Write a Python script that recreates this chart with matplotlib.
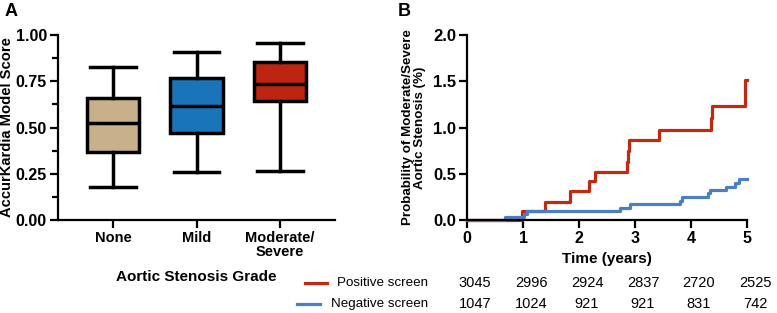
import matplotlib
matplotlib.use("Agg")
import matplotlib.pyplot as plt
from matplotlib.ticker import MultipleLocator

plt.rcParams['font.family'] = ['Liberation Sans', 'DejaVu Sans']

# ---- Panel A data ----
grades = ["None", "Mild", "Moderate/\nSevere"]
whisker_low = [0.177, 0.262, 0.265]
q1 = [0.366, 0.468, 0.643]
median = [0.523, 0.616, 0.733]
q3 = [0.660, 0.768, 0.856]
whisker_high = [0.829, 0.910, 0.958]
box_colors = ["#C8B08A", "#1A74BA", "#BE2511"]

# ---- Panel B data ----
pos_times = [0, 0.98, 1.39, 1.84, 2.18, 2.29, 2.85, 2.88, 2.90, 3.43, 4.36, 4.38, 4.97, 5.0]
pos_values = [0, 0.10, 0.20, 0.31, 0.42, 0.52, 0.63, 0.75, 0.86, 0.97, 1.10, 1.23, 1.51, 1.51]
neg_times = [0, 0.67, 1.02, 1.07, 2.74, 2.91, 3.80, 3.84, 4.30, 4.34, 4.63, 4.78, 4.86, 5.0]
neg_values = [0, 0.03, 0.06, 0.10, 0.135, 0.17, 0.21, 0.25, 0.29, 0.32, 0.36, 0.40, 0.44, 0.44]
risk_times = [0, 1, 2, 3, 4, 5]
pos_at_risk = [3045, 2996, 2924, 2837, 2720, 2525]
neg_at_risk = [1047, 1024, 921, 921, 831, 742]
series_labels = ["Positive screen", "Negative screen"]
line_colors = ["#BF2A12", "#4A7FC1"]

fig = plt.figure(figsize=(7.77, 3.13), dpi=100)

# ---------------- Panel A ----------------
axA = fig.add_axes([58/777, 1-220/313, 277/777, 185/313])
stats = []
for i in range(3):
    stats.append(dict(med=median[i], q1=q1[i], q3=q3[i],
                      whislo=whisker_low[i], whishi=whisker_high[i], fliers=[]))
lw = 2.5
bp = axA.bxp(stats, positions=range(3), widths=0.63, patch_artist=True,
             showfliers=False,
             boxprops=dict(linewidth=lw, edgecolor='black'),
             medianprops=dict(color='black', linewidth=lw),
             whiskerprops=dict(color='black', linewidth=lw),
             capprops=dict(color='black', linewidth=lw),
             capwidths=0.55)
for patch, c in zip(bp['boxes'], box_colors):
    patch.set_facecolor(c)
axA.set_xlim(-0.66, 2.66)
axA.set_ylim(0, 1.0)
axA.yaxis.set_minor_locator(MultipleLocator(0.125))
axA.set_yticks([0, 0.25, 0.5, 0.75, 1.0])
axA.set_yticklabels(["0.00", "0.25", "0.50", "0.75", "1.00"], fontweight='bold', fontsize=11.5)
axA.set_xticks(range(3))
axA.set_xticklabels(grades, fontweight='bold', fontsize=10.5, linespacing=1.0)
axA.set_xlabel("Aortic Stenosis Grade", fontweight='bold', fontsize=11, labelpad=8)
axA.set_ylabel("AccurKardia Model Score", fontweight='bold', fontsize=10.6)
axA.yaxis.set_label_coords(-0.160, 0.5)
for s in ['top', 'right']:
    axA.spines[s].set_visible(False)
for s in ['left', 'bottom']:
    axA.spines[s].set_linewidth(1.6)
axA.tick_params(axis='both', which='major', width=1.6, length=6, pad=2)
axA.tick_params(axis='y', which='minor', width=1.6, length=4)
fig.text(5/777, 1-12/313, "A", fontweight='bold', fontsize=13, va='center')

# ---------------- Panel B ----------------
axB = fig.add_axes([467/777, 1-220/313, 280/777, 185/313])
axB.step(pos_times, pos_values, where='post', color=line_colors[0], linewidth=2.3, zorder=3)
axB.step(neg_times, neg_values, where='post', color=line_colors[1], linewidth=2.3, zorder=4)
axB.set_xlim(0, 5)
axB.set_ylim(0, 2.0)
axB.set_xticks(range(6))
axB.set_xticklabels([str(t) for t in range(6)], fontweight='bold', fontsize=11.5)
axB.set_yticks([0, 0.5, 1.0, 1.5, 2.0])
axB.set_yticklabels(["0.0", "0.5", "1.0", "1.5", "2.0"], fontweight='bold', fontsize=12)
axB.set_xlabel("Time (years)", fontweight='bold', fontsize=11, labelpad=4)
axB.set_ylabel("Probability of Moderate/Severe\nAortic Stenosis (%)", fontweight='bold',
               fontsize=9.6, linespacing=1.0)
axB.yaxis.set_label_coords(-0.146, 0.5)
for s in ['top', 'right']:
    axB.spines[s].set_visible(False)
for s in ['left', 'bottom']:
    axB.spines[s].set_linewidth(1.6)
    axB.spines[s].set_zorder(5)
axB.tick_params(axis='both', which='major', width=1.6, length=6, pad=2)
for ln in axB.lines:
    ln.set_clip_on(False)
fig.text(398/777, 1-12/313, "B", fontweight='bold', fontsize=13, va='center')

# risk table
row_y = [1-283/313, 1-304/313]
for counts, yy in zip([pos_at_risk, neg_at_risk], row_y):
    for t, n in zip(risk_times, counts):
        xpix = 467 + t*56 + 8
        fig.text(xpix/777, yy, str(n), ha='center', va='center', fontsize=10.5)
# legend lines + right aligned labels
fig.text(428/777, row_y[0], series_labels[0], ha='right', va='center', fontsize=9.6)
fig.text(428/777, row_y[1], series_labels[1], ha='right', va='center', fontsize=9.6)
fig.add_artist(plt.Line2D([305/777, 327/777], [row_y[0], row_y[0]], color=line_colors[0], lw=2.3))
fig.add_artist(plt.Line2D([297/777, 320/777], [row_y[1], row_y[1]], color=line_colors[1], lw=2.3))

fig.savefig("out.png", dpi=100)
